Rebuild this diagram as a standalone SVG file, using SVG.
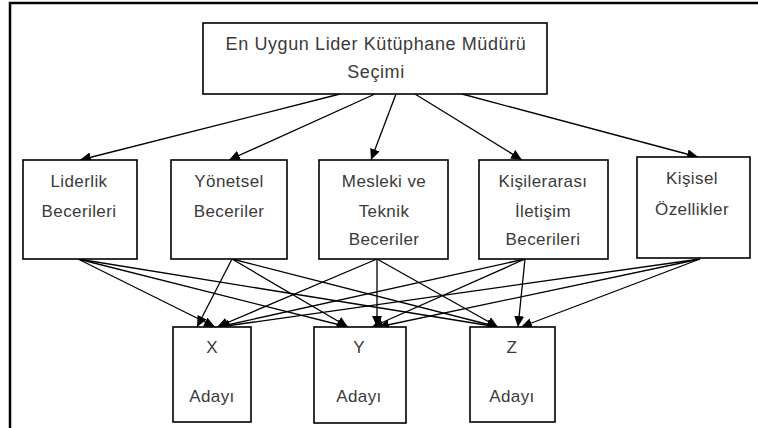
<svg xmlns="http://www.w3.org/2000/svg" width="758" height="428" viewBox="0 0 758 428">
<style>
.box{fill:#fff;stroke:#000;stroke-width:1.6}
.t{font-family:"Liberation Sans",Arial,sans-serif;font-size:17px;fill:#3a3a3a;text-anchor:middle;letter-spacing:0.4px}
.top{font-size:18px;letter-spacing:0.6px}
.c line{stroke:#000;stroke-width:1.3;marker-end:url(#ah)}
</style>
<defs>
<marker id="ah" markerUnits="userSpaceOnUse" markerWidth="12" markerHeight="10" refX="11" refY="5" orient="auto">
<path d="M0,0 L11,5 L0,10 Z" fill="#000"/>
</marker>
</defs>
<rect width="758" height="428" fill="#fff"/>
<path d="M10,428 V3 H758" fill="none" stroke="#000" stroke-width="2.5"/>
<g class="c">
<line x1="340" y1="94" x2="80" y2="160"/>
<line x1="375" y1="94" x2="229" y2="160"/>
<line x1="396" y1="94" x2="371" y2="160"/>
<line x1="415" y1="94" x2="522" y2="160"/>
<line x1="462" y1="94" x2="698" y2="157"/>
<line x1="78" y1="259" x2="215" y2="327"/>
<line x1="78" y1="259" x2="348" y2="327"/>
<line x1="78" y1="259" x2="498" y2="327"/>
<line x1="232" y1="259" x2="197" y2="327"/>
<line x1="232" y1="259" x2="348" y2="327"/>
<line x1="232" y1="259" x2="498" y2="327"/>
<line x1="377" y1="259" x2="217" y2="327"/>
<line x1="377" y1="259" x2="377" y2="327"/>
<line x1="377" y1="259" x2="498" y2="327"/>
<line x1="525" y1="259" x2="218" y2="327"/>
<line x1="525" y1="259" x2="372" y2="327"/>
<line x1="525" y1="259" x2="518" y2="327"/>
<line x1="700" y1="259" x2="219" y2="327"/>
<line x1="700" y1="259" x2="378" y2="327"/>
<line x1="700" y1="259" x2="521" y2="327"/>
</g>
<g id="top">
<rect class="box" x="203" y="23" width="344" height="71"/>
<text class="t top" x="376" y="50">En Uygun Lider Kütüphane Müdürü</text>
<text class="t top" x="376" y="78">Seçimi</text>
</g>
<g id="liderlik">
<rect class="box" x="23" y="160" width="114" height="99"/>
<text class="t" x="79" y="187">Liderlik</text>
<text class="t" x="79" y="217">Becerileri</text>
</g>
<g id="yonetsel">
<rect class="box" x="171" y="160" width="116" height="99"/>
<text class="t" x="229" y="187">Yönetsel</text>
<text class="t" x="229" y="217">Beceriler</text>
</g>
<g id="mesleki">
<rect class="box" x="319" y="160" width="129" height="99"/>
<text class="t" x="384" y="187">Mesleki ve</text>
<text class="t" x="384" y="217">Teknik</text>
<text class="t" x="384" y="245">Beceriler</text>
</g>
<g id="kisilerarasi">
<rect class="box" x="479" y="160" width="129" height="99"/>
<text class="t" x="543" y="187">Kişilerarası</text>
<text class="t" x="543" y="217">İletişim</text>
<text class="t" x="543" y="245">Becerileri</text>
</g>
<g id="kisisel">
<rect class="box" x="637" y="157" width="113" height="101"/>
<text class="t" x="692" y="184">Kişisel</text>
<text class="t" x="692" y="215">Özellikler</text>
</g>
<g id="x">
<rect class="box" x="173" y="327" width="78" height="95"/>
<text class="t" x="212" y="353">X</text>
<text class="t" x="212" y="402">Adayı</text>
</g>
<g id="y">
<rect class="box" x="314" y="327" width="92" height="96"/>
<text class="t" x="359" y="353">Y</text>
<text class="t" x="359" y="402">Adayı</text>
</g>
<g id="z">
<rect class="box" x="470" y="327" width="85" height="95"/>
<text class="t" x="512" y="353">Z</text>
<text class="t" x="512" y="402">Adayı</text>
</g>
</svg>
